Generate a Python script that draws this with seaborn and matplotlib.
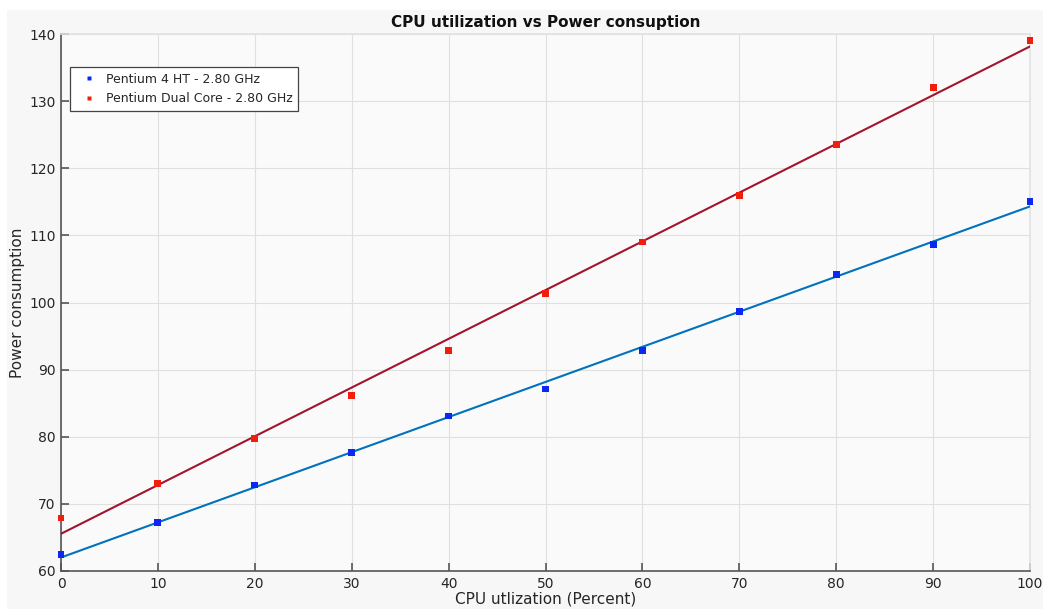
import numpy as np
import pandas as pd
import matplotlib
matplotlib.use("Agg")
import matplotlib.pyplot as plt
from matplotlib.patches import Rectangle
import seaborn as sns

# Measured power draw at each CPU load step
utilization = [0, 10, 20, 30, 40, 50, 60, 70, 80, 90, 100]
pentium4_ht = [62.4, 67.2, 72.8, 77.7, 83.1, 87.1, 92.9, 98.6, 104.2, 108.7, 115.1]
pentium_dual = [67.9, 73.0, 79.7, 86.1, 92.9, 101.3, 109.0, 115.9, 123.5, 132.0, 139.0]
series_names = ["Pentium 4 HT - 2.80 GHz", "Pentium Dual Core - 2.80 GHz"]
x_ticks = list(range(0, 101, 10))
y_ticks = list(range(60, 141, 10))

df = pd.DataFrame({
    "util": utilization * 2,
    "power": pentium4_ht + pentium_dual,
    "cpu": [series_names[0]] * len(utilization) + [series_names[1]] * len(utilization),
})

marker_colors = {series_names[0]: "#0a28f0", series_names[1]: "#f01e0a"}
fit_colors = {series_names[0]: "#0072bd", series_names[1]: "#a2142f"}

sns.set_theme(style="whitegrid")
plt.rcParams["font.family"] = ["DejaVu Sans"]

fig = plt.figure(figsize=(10.43, 6.09), dpi=100, facecolor="white")
fig.patches.append(Rectangle((7 / 1043, 0), 1, (609 - 10) / 609, transform=fig.transFigure,
                             facecolor="#f7f7f7", edgecolor="none", zorder=-10))
ax = fig.add_axes([61 / 1043, 38 / 609, 969 / 1043, 537 / 609])
ax.set_facecolor("#fafafa")

# Least-squares fit lines for each processor
for name in series_names:
    sub = df[df["cpu"] == name]
    sns.regplot(data=sub, x="util", y="power", ax=ax, scatter=False, ci=None, truncate=True,
                line_kws={"color": fit_colors[name], "linewidth": 1.5, "zorder": 3})

sns.scatterplot(data=df, x="util", y="power", hue="cpu", palette=marker_colors, marker="s",
                s=24, edgecolor="none", ax=ax, zorder=4, clip_on=False)

ax.set_xlim(0, 100)
ax.set_ylim(60, 140)
ax.set_xticks(x_ticks)
ax.set_yticks(y_ticks)
ax.grid(True, color="#e0e0e0", linewidth=0.8)
ax.tick_params(axis="both", direction="in", length=6, width=1.2, color="#555555",
               labelsize=10, labelcolor="#262626", left=True, bottom=True)
ax.tick_params(axis="x", pad=4)
ax.tick_params(axis="y", pad=4)

for side in ("left", "bottom"):
    ax.spines[side].set_color("#555555")
    ax.spines[side].set_linewidth(1.2)
for side in ("top", "right"):
    ax.spines[side].set_color("#e2e2e2")
    ax.spines[side].set_linewidth(1.2)

ax.set_title("CPU utilization vs Power consuption", fontsize=11, fontweight="bold",
             color="#111111", pad=5)
ax.set_xlabel("CPU utlization (Percent)", fontsize=11, color="#262626", labelpad=0.5)
ax.set_ylabel("Power consumption", fontsize=11, color="#262626", labelpad=2.5)

handles, labels = ax.get_legend_handles_labels()
leg = ax.legend(handles, labels, loc="upper left", bbox_to_anchor=(9 / 969, (571 - 67) / 537),
                borderaxespad=0, fontsize=9, frameon=True, fancybox=False, markerscale=0.7,
                handletextpad=0.3, borderpad=0.45, labelspacing=0.55, handlelength=2.1)
leg.get_frame().set_edgecolor("#444444")
leg.get_frame().set_facecolor("#ffffff")
leg.get_frame().set_linewidth(0.9)
leg.get_frame().set_alpha(1)

fig.savefig("out.png", dpi=100, facecolor=fig.get_facecolor())
